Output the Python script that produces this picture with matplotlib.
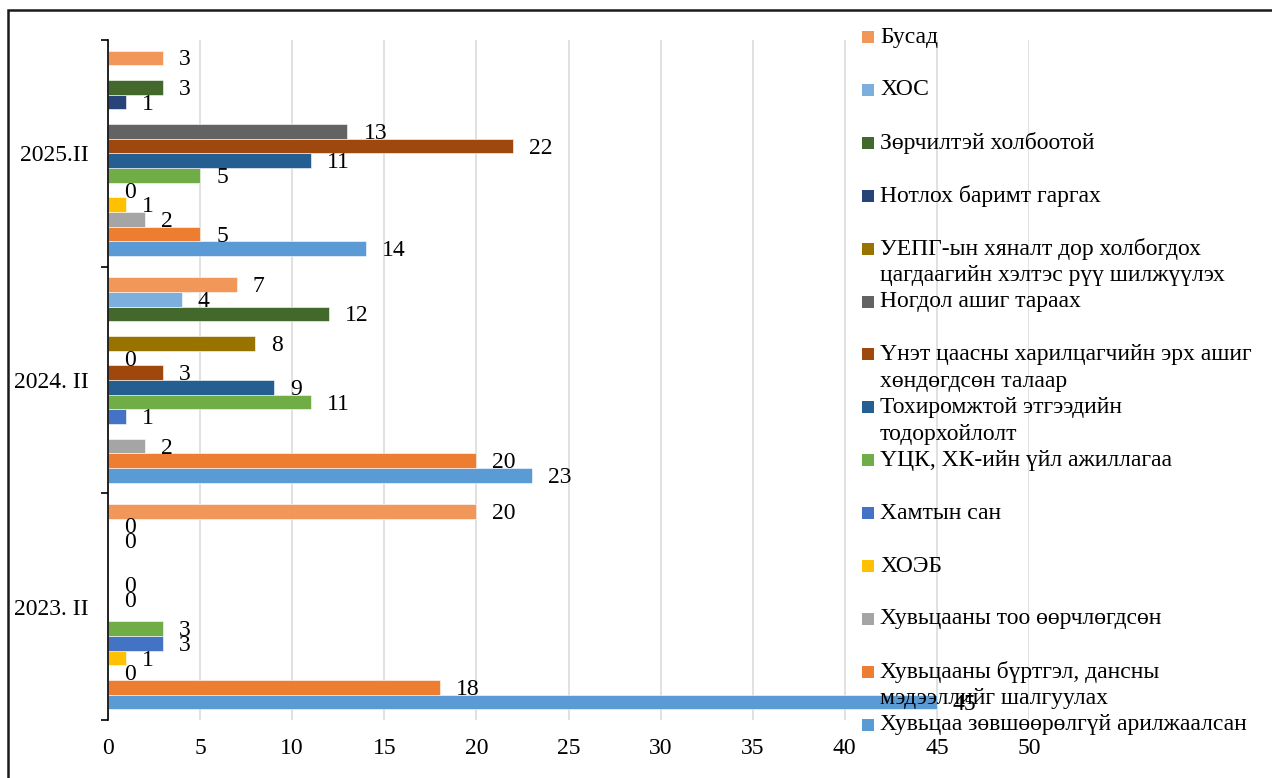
import numpy as np
import matplotlib
matplotlib.use("Agg")
import matplotlib.pyplot as plt
from matplotlib.patches import Rectangle

plt.rcParams['font.family'] = ['Liberation Serif', 'DejaVu Serif']

categories = ["2023. II", "2024. II", "2025.II"]

series_names = [
    "Хувьцаа зөвшөөрөлгүй арилжаалсан",
    "Хувьцааны бүртгэл, дансны\nмэдээллийг шалгуулах",
    "Хувьцааны тоо өөрчлөгдсөн",
    "ХОЭБ",
    "Хамтын сан",
    "ҮЦК, ХК-ийн үйл ажиллагаа",
    "Тохиромжтой этгээдийн\nтодорхойлолт",
    "Үнэт цаасны харилцагчийн эрх ашиг\nхөндөгдсөн талаар",
    "Ногдол ашиг тараах",
    "УЕПГ-ын хяналт дор холбогдох\nцагдаагийн хэлтэс рүү шилжүүлэх",
    "Нотлох баримт гаргах",
    "Зөрчилтэй холбоотой",
    "ХОС",
    "Бусад",
]

nan = np.nan
values_2023 = [45, 18, 0, 1, 3, 3, nan, 0, 0, nan, nan, 0, 0, 20]
values_2024 = [23, 20, 2, nan, 1, 11, 9, 3, 0, 8, nan, 12, 4, 7]
values_2025 = [14, 5, 2, 1, 0, 5, 11, 22, 13, nan, 1, 3, nan, 3]

colors = ["#5B9BD5", "#ED7D31", "#A5A5A5", "#FFC000", "#4472C4", "#70AD47",
          "#255E91", "#9E480E", "#636363", "#997300", "#264478", "#43682B",
          "#7CAFDD", "#F1975A"]

x_ticks = list(range(0, 51, 5))

FS = 17
W, H = 1272, 778
fig = plt.figure(figsize=(W / 100, H / 100), dpi=100)
ax = fig.add_axes([108 / W, (H - 720) / H, 921 / W, 680 / H])

table = np.array([values_2023, values_2024, values_2025], dtype=float)
n_series = len(series_names)
bar_h = 0.0648
ypos = np.arange(len(categories))

for i in range(n_series):
    vals = table[:, i]
    centers = ypos + (i - (n_series - 1) / 2) * bar_h
    mask = ~np.isnan(vals)
    ax.barh(centers[mask], vals[mask], height=bar_h, color=colors[i],
            edgecolor="white", linewidth=0.4, zorder=2)
    for yc, v in zip(centers[mask], vals[mask]):
        ax.annotate(f"{v:g}", (v, yc), xytext=(11.5, -1.5), textcoords="offset points",
                    ha="left", va="center", fontsize=FS, color="black", zorder=4)

ax.set_xlim(0, 50)
ax.set_ylim(-0.5, len(categories) - 0.5)
ax.set_xticks(x_ticks)
ax.set_xticklabels([str(t) for t in x_ticks], fontsize=FS)
ax.tick_params(axis="x", length=0, pad=13)

ax.set_yticks(np.arange(-0.5, len(categories), 1.0))
ax.set_yticklabels([])
ax.tick_params(axis="y", which="major", length=5, width=1.2, direction="out", color="black")
ax.set_yticks(ypos, minor=True)
ax.set_yticklabels(categories, minor=True, fontsize=FS)
ax.tick_params(axis="y", which="minor", length=0, pad=14)

ax.grid(axis="x", color="#D9D9D9", linewidth=1.1, zorder=0)
ax.set_axisbelow(True)
for side in ["top", "right", "bottom"]:
    ax.spines[side].set_visible(False)
ax.spines["left"].set_linewidth(1.2)
ax.spines["left"].set_color("black")
ax.spines["left"].set_zorder(3)

# legend drawn in reversed series order, one slot per series
slot0, slot_step, line_step = 37.0, 52.9, 27.0
for k, idx in enumerate(range(n_series - 1, -1, -1)):
    y_first = slot0 + k * slot_step
    fig.patches.append(Rectangle((862 / W, 1 - (y_first + 6) / H), 12 / W, 12 / H,
                                 transform=fig.transFigure, facecolor=colors[idx],
                                 edgecolor="none", zorder=5))
    for j, line in enumerate(series_names[idx].split("\n")):
        fig.text(880 / W, 1 - (y_first + j * line_step) / H, line, fontsize=FS,
                 ha="left", va="center", zorder=6)

# chart frame
fig.patches.append(Rectangle((8 / W, -0.05), 1.2, 1 - 10 / H + 0.05,
                             transform=fig.transFigure, facecolor="none",
                             edgecolor="#1a1a1a", linewidth=1.8, zorder=10))

fig.savefig("out.png", dpi=100)
